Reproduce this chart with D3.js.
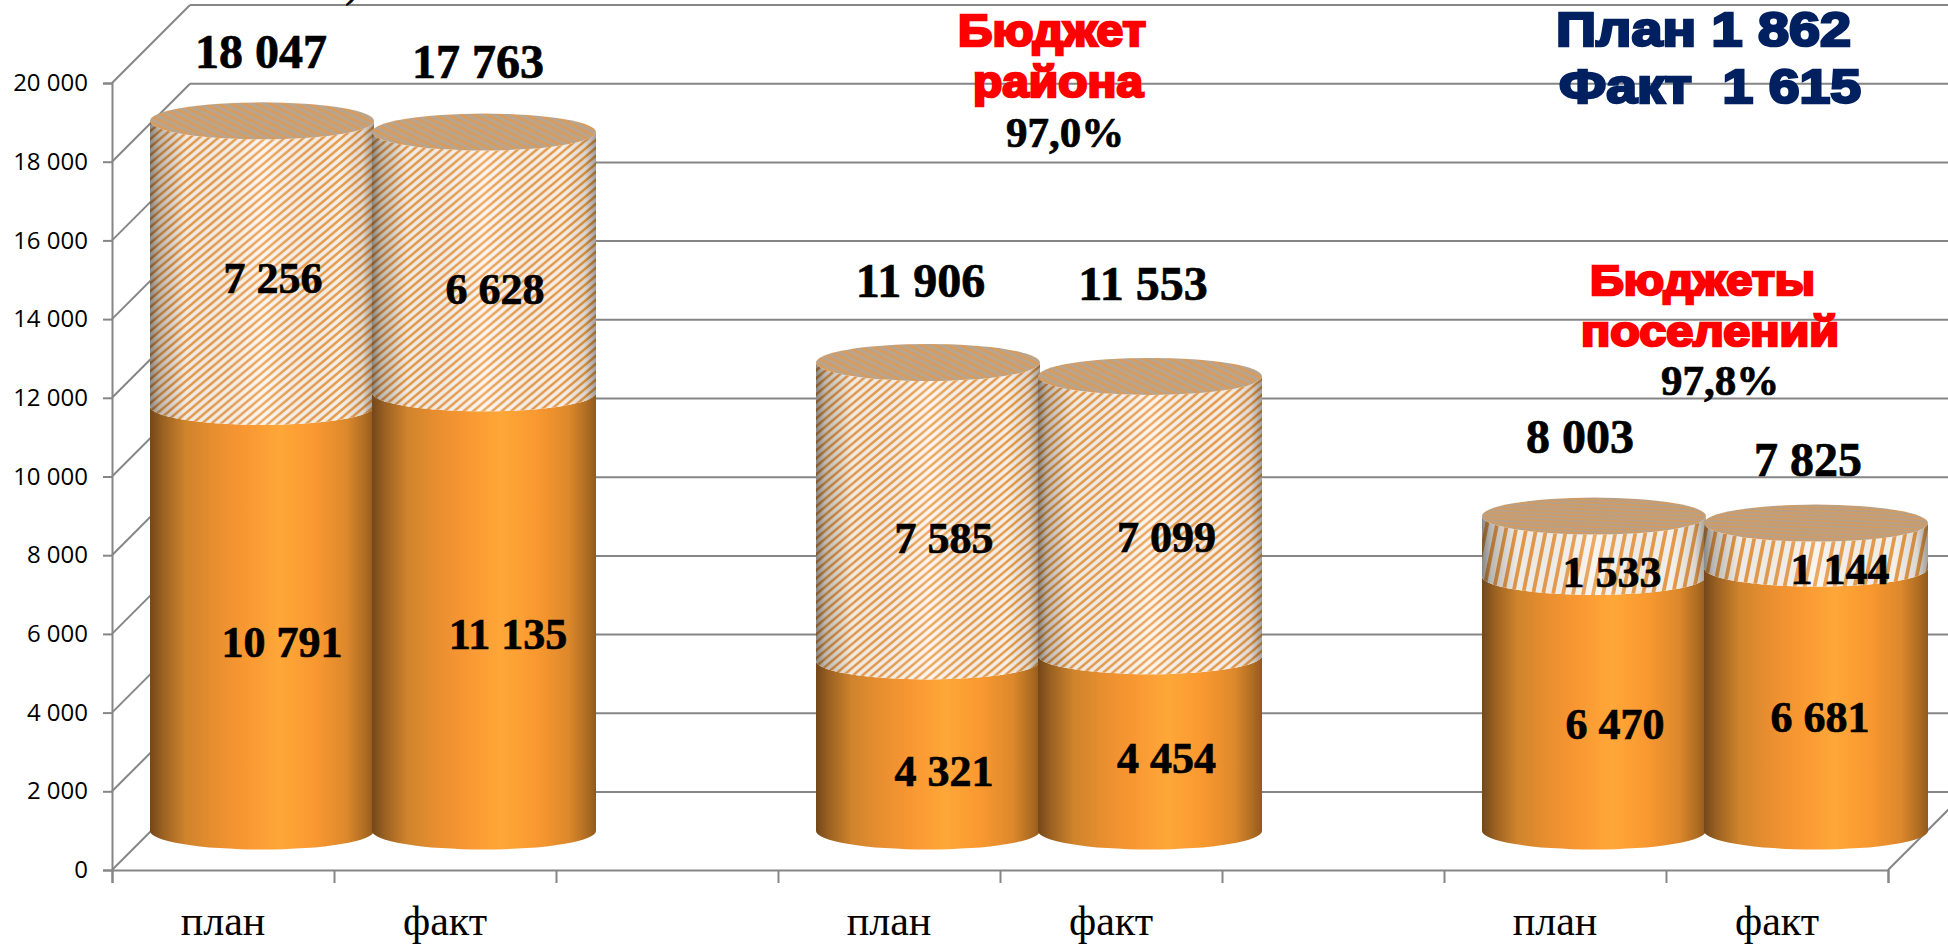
<!DOCTYPE html>
<html>
<head>
<meta charset="utf-8">
<script src="https://cdn.jsdelivr.net/npm/d3@7"></script>
<style>
  html, body { margin: 0; padding: 0; background: #fff; overflow: hidden; }
  svg { display: block; }
  .axis path, .axis line { stroke: #868686; stroke-width: 2; }
  .axis text { fill: #000; }
  .grid line { stroke: #868686; stroke-width: 2; }
  .ylab text { font-family: "Open Sans", sans-serif; font-size: 24px; }
  .xlab text { font-family: "Liberation Serif", serif; font-size: 42px; }
  .val { font-family: "Liberation Serif", serif; font-weight: bold; text-anchor: middle; fill: #000; stroke: #000; stroke-width: 0.7; }
  .note { font-family: "Liberation Sans", sans-serif; font-weight: bold; white-space: pre; }
</style>
</head>
<body>
<svg id="chart" width="1948" height="944"></svg>
<script>
// values
const categories = ['план', 'факт', '', 'план', 'факт', '', 'план', 'факт'];
const lowerValues = [10791, 11135, null, 4321, 4454, null, 6470, 6681];
const upperValues = [7256, 6628, null, 7585, 7099, null, 1533, 1144];
const totalValues = [18047, 17763, null, 11906, 11553, null, 8003, 7825];
const yTicks = [0, 2000, 4000, 6000, 8000, 10000, 12000, 14000, 16000, 18000, 20000];

// labels were moved by hand in the original, so they sit off the default spot
const totalNudge = [[-1, -69], [-6, -70], null, [-7.5, -81.5], [-7, -93], null, [-14, -79], [-8, -63]];
const upperNudge = [[11, 14], [11, 27], null, [16, 26], [16.5, 21], null, [18, 26], [24, 23]];
const lowerNudge = [[20, 23], [24, 22], null, [16, 25], [16.5, 14.6], null, [21, 20], [4, 17]];

// region size
const plotLeft = 112, plotRight = 1888, plotBottom = 870, plotTop = 83;
const depth = 78;
const barW = 224, ry = 18.5;
// endregion

const svg = d3.select('#chart');
const defs = svg.append('defs');

const x = d3.scaleBand().domain(d3.range(categories.length)).range([plotLeft, plotRight]);
const xEdge = d3.scaleLinear().domain([0, categories.length]).range([plotLeft, plotRight]);
const y = d3.scaleLinear().domain([0, 20000]).range([plotBottom, plotTop]);
const spaced = d3.formatLocale({decimal: ',', thousands: ' ', grouping: [3], currency: ['', '']}).format(',d');

// cylinder centre sits half way into the 3d depth
const cx = i => x(i) + x.bandwidth() / 2 + depth / 2;
const cy = v => y(v) - depth / 2;

function addGradient(id, stops) {
  const g = defs.append('linearGradient').attr('id', id).attr('x1', 0).attr('x2', 1).attr('y1', 0).attr('y2', 0);
  stops.forEach(s => g.append('stop').attr('offset', s[0]).attr('stop-color', s[1]).attr('stop-opacity', s[2] === undefined ? 1 : s[2]));
}

function addStripes(id, w, h, d, back, fore, mirror) {
  const p = defs.append('pattern').attr('id', id).attr('patternUnits', 'userSpaceOnUse').attr('width', w).attr('height', h);
  p.append('rect').attr('width', w).attr('height', h).attr('fill', back);
  [0, -w].forEach(s => {
    const pts = [[s, h], [s + d, h], [s + d + w, 0], [s + w, 0]]
      .map(q => (mirror ? w - q[0] : q[0]) + ',' + q[1]).join(' ');
    p.append('polygon').attr('points', pts).attr('fill', fore);
  });
}

addGradient('orange', [[0, '#74471a'], [0.06, '#9c6222'], [0.16, '#d0842c'], [0.3, '#ea8f30'], [0.42, '#f89732'], [0.58, '#ffa738'], [0.74, '#f99830'], [0.88, '#dc882c'], [0.96, '#ae6c22'], [1, '#93591c']]);
addGradient('shade', [[0, '#000', 0.45], [0.04, '#000', 0.25], [0.16, '#000', 0.04], [0.5, '#fff', 0.12], [0.85, '#000', 0.02], [0.95, '#000', 0.12], [1, '#000', 0.35]]);
addStripes('sideTall', 9.5, 8, 3.9, '#fbf4ec', '#ec9f4e', false);
addStripes('sideShort', 10, 50, 3.8, '#f8f4ee', '#ea9d4c', false);
addStripes('topTall', 13, 6.5, 5, '#b9a48e', '#dc9a55', true);
addStripes('topShort', 70, 3.4, 32, '#b3a18e', '#d99a58', true);

// region back wall and floor
const grid = svg.append('g').attr('class', 'grid');
grid.selectAll('.back').data(yTicks).join('line')
  .attr('class', 'back')
  .attr('x1', plotLeft + depth).attr('x2', plotRight + depth)
  .attr('y1', d => y(d) - depth).attr('y2', d => y(d) - depth);
grid.selectAll('.side').data(yTicks).join('line')
  .attr('class', 'side')
  .attr('x1', plotLeft).attr('x2', plotLeft + depth)
  .attr('y1', d => y(d)).attr('y2', d => y(d) - depth);
grid.append('line')
  .attr('x1', plotRight).attr('x2', plotRight + depth)
  .attr('y1', y(0)).attr('y2', y(0) - depth);
// endregion

// region cylinders
function sidePath(i, v0, v1) {
  const x0 = cx(i) - barW / 2, x1 = cx(i) + barW / 2, rx = barW / 2;
  return 'M' + x0 + ',' + cy(v1)
    + 'A' + rx + ',' + ry + ' 0 0 0 ' + x1 + ',' + cy(v1)
    + 'L' + x1 + ',' + cy(v0)
    + 'A' + rx + ',' + ry + ' 0 0 1 ' + x0 + ',' + cy(v0) + 'Z';
}

const bars = d3.range(categories.length).filter(i => totalValues[i] !== null);
const isShort = i => upperValues[i] < 2000;

const bar = svg.selectAll('.bar').data(bars).join('g').attr('class', 'bar');
bar.append('path').attr('d', i => sidePath(i, 0, lowerValues[i])).attr('fill', 'url(#orange)');
bar.append('path').attr('d', i => sidePath(i, lowerValues[i], lowerValues[i] + upperValues[i]))
  .attr('fill', i => isShort(i) ? 'url(#sideShort)' : 'url(#sideTall)');
bar.append('path').attr('d', i => sidePath(i, lowerValues[i], lowerValues[i] + upperValues[i]))
  .attr('fill', 'url(#shade)');
bar.append('ellipse')
  .attr('cx', cx).attr('cy', i => cy(lowerValues[i] + upperValues[i]))
  .attr('rx', barW / 2).attr('ry', ry)
  .attr('fill', i => isShort(i) ? 'url(#topShort)' : 'url(#topTall)');
// endregion

// region axes
const yAxis = d3.axisLeft(y).tickValues(yTicks).tickSize(9).tickPadding(15).tickFormat(spaced);
svg.append('g').attr('class', 'axis ylab').attr('transform', 'translate(' + plotLeft + ',0)').call(yAxis);

const xMarks = d3.axisBottom(xEdge).ticks(categories.length).tickSize(13).tickFormat('');
svg.append('g').attr('class', 'axis').attr('transform', 'translate(0,' + plotBottom + ')').call(xMarks);

const xLabels = d3.axisBottom(x).tickSize(0).tickPadding(35).tickFormat(i => categories[i]);
svg.append('g').attr('class', 'axis xlab').attr('transform', 'translate(0,' + plotBottom + ')').call(xLabels)
  .call(g => g.select('.domain').remove());
// endregion

// region value labels
function addLabels(values, base, nudge, size) {
  svg.append('g').selectAll('text').data(bars).join('text')
    .attr('class', 'val')
    .attr('font-size', size)
    .attr('x', i => cx(i) + nudge[i][0])
    .attr('y', i => cy(base(i)) + nudge[i][1])
    .attr('dy', '0.34em')
    .text(i => spaced(values[i]));
}
addLabels(totalValues, i => totalValues[i], totalNudge, 48);
addLabels(upperValues, i => lowerValues[i] + upperValues[i] / 2, upperNudge, 44);
addLabels(lowerValues, i => lowerValues[i] / 2, lowerNudge, 44);
// endregion

// region free text on the slide
function addNote(text, px, py, len, size, color) {
  svg.append('text').attr('class', 'note')
    .attr('x', px).attr('y', py)
    .attr('font-size', size).attr('fill', color)
    .attr('stroke', color).attr('stroke-width', 2.6)
    .attr('textLength', len).attr('lengthAdjust', 'spacingAndGlyphs')
    .text(text);
}
addNote('Бюджет', 958, 46, 188, 44, '#ff0000');
addNote('района', 973, 97, 170, 44, '#ff0000');
addNote('Бюджеты', 1590, 295, 225, 43, '#ff0000');
addNote('поселений', 1581, 346, 258, 43, '#ff0000');
addNote('План 1 862', 1556, 46, 295, 48, '#002060');
addNote('Факт  1 615', 1559, 103, 302, 48, '#002060');

svg.append('text').attr('class', 'val').attr('font-size', 43).attr('x', 1065).attr('y', 147).text('97,0%');
svg.append('text').attr('class', 'val').attr('font-size', 43).attr('x', 1720).attr('y', 395).text('97,8%');
svg.append('text').attr('class', 'val').attr('font-size', 40).attr('x', 352).attr('y', -3).style('font-weight', 'normal').text(')');
// endregion
</script>
</body>
</html>
